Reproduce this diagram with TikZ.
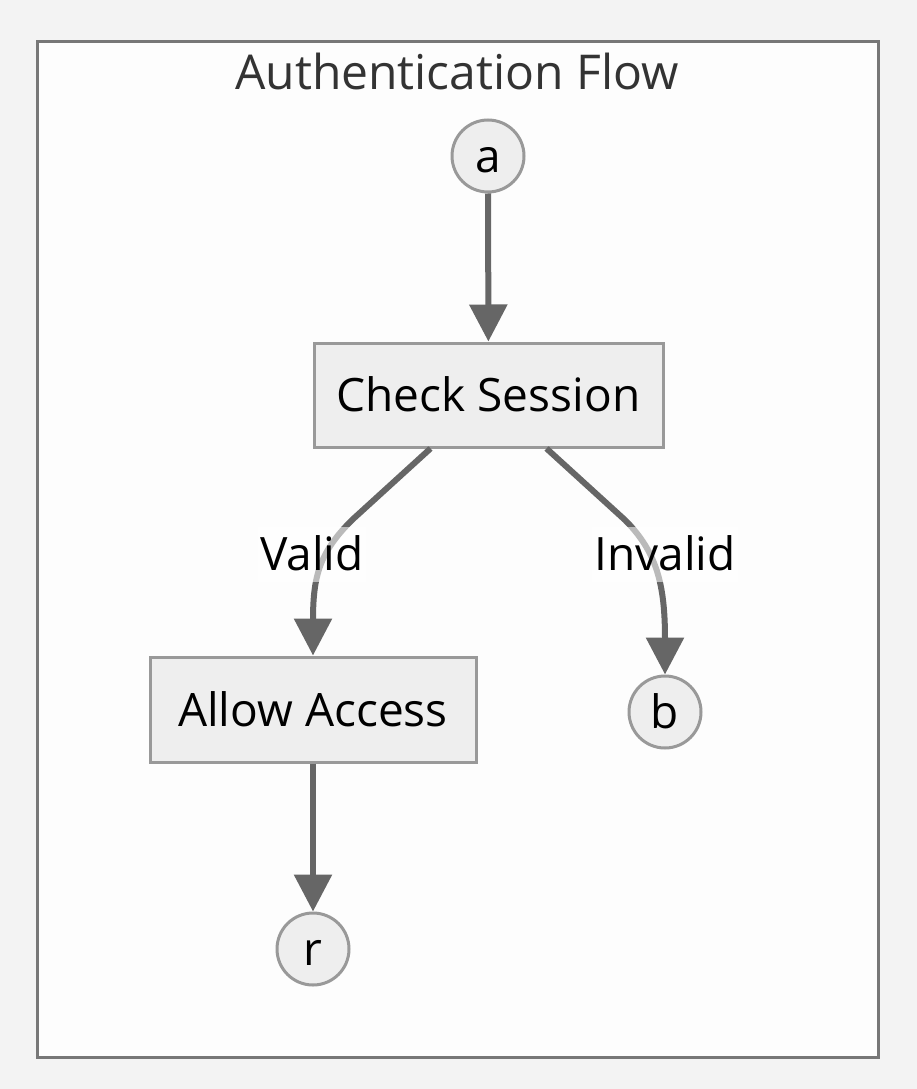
\documentclass[tikz,border=0pt]{standalone}
\usepackage{fontspec}
\setmainfont{Open Sans}
\usetikzlibrary{arrows.meta}
\definecolor{pagebg}{HTML}{F3F3F3}
\definecolor{clusterbg}{HTML}{FDFDFD}
\definecolor{clusterline}{HTML}{777777}
\definecolor{nodefill}{HTML}{EEEEEE}
\definecolor{nodeline}{HTML}{999999}
\definecolor{edgecol}{HTML}{666666}
\definecolor{titlecol}{HTML}{333333}
\tikzset{
  txt/.style={font=\fontsize{46}{50}\selectfont, text height=33pt, text depth=0pt},
  boxnode/.style={txt, draw=nodeline, fill=nodefill, line width=3pt, inner sep=0pt},
  circnode/.style={txt, circle, draw=nodeline, fill=nodefill, line width=3pt, inner sep=0pt, minimum size=72pt},
  edgelbl/.style={txt, fill=white, fill opacity=0.55, text opacity=1, inner xsep=2pt, inner ysep=0pt, minimum height=55pt},
  flow/.style={draw=edgecol, line width=6pt, -{Triangle[length=37pt,width=37pt]}},
}
\begin{document}
\begin{tikzpicture}[x=1pt,y=-1pt]
\path[fill=pagebg] (0,0) rectangle (917,1089);
\useasboundingbox (0,0) rectangle (917,1089);
\draw[fill=clusterbg, draw=clusterline, line width=3pt] (37,42) rectangle (878,1057);
\node[txt, font=\fontsize{48}{52}\selectfont, text height=34pt, text=titlecol] (title) at (457,73) {Authentication Flow};

\node[circnode] (a) at (488,156) {a};
\node[boxnode, minimum width=349pt, minimum height=104pt] (check) at (488.5,395) {Check Session};
\node[boxnode, minimum width=326pt, minimum height=105pt] (allow) at (313,709.5) {Allow Access};
\node[circnode] (b) at (665,712) {b};
\node[circnode] (r) at (313,949) {r};

\coordinate (vstart) at ([xshift=-58pt]check.south);
\coordinate (istart) at ([xshift=58pt]check.south);

\draw[flow] (a) -- (check);
\draw[flow] (vstart) -- (352,520) .. controls (320,552) and (313,575) .. (allow.north);
\draw[flow] (istart) -- (625,520) .. controls (657,552) and (665,585) .. (b.north);
\draw[flow] (allow) -- (r);

\node[edgelbl] (lvalid) at (312,554) {Valid};
\node[edgelbl] (linvalid) at (665,554) {Invalid};
\end{tikzpicture}
\end{document}
